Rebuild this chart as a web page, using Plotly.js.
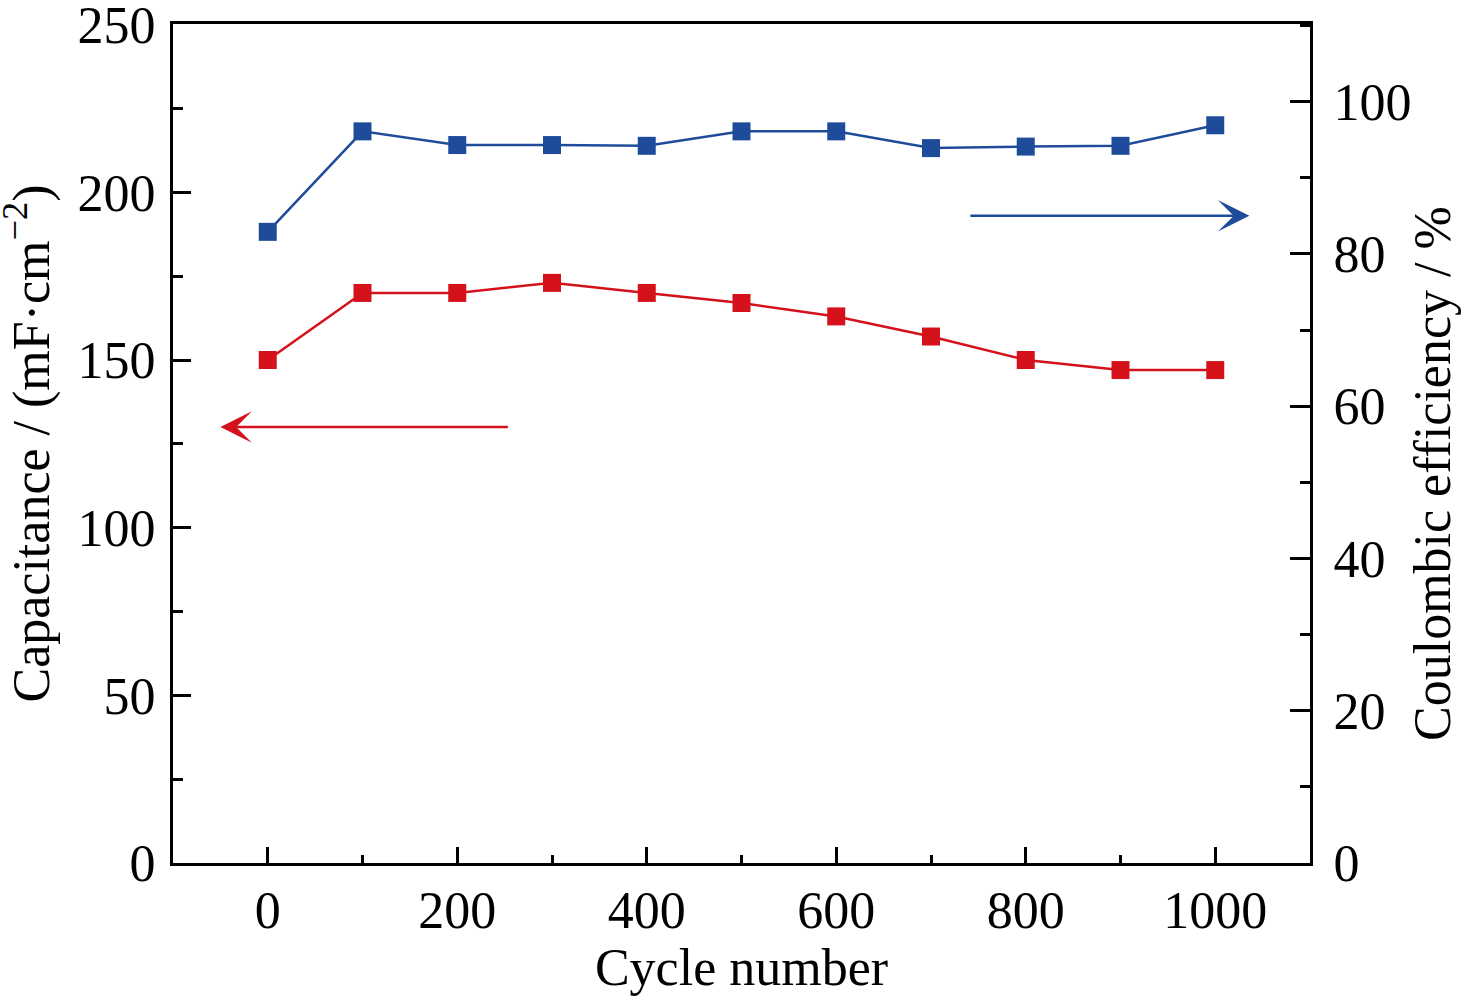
<!DOCTYPE html>
<html>
<head>
<meta charset="utf-8">
<script src="https://cdn.plot.ly/plotly-3.0.1.min.js"></script>
<style>html,body{margin:0;padding:0;background:#fff;}#chart{width:1462px;height:1000px;}</style>
</head>
<body>
<div id="chart"></div>
<script>
const cycles = [0, 100, 200, 300, 400, 500, 600, 700, 800, 900, 1000];
const capacitance = [150, 170, 170, 173, 170, 167, 163, 157, 150, 147, 147];
const coulombic = [82.9, 96.1, 94.3, 94.3, 94.2, 96.1, 96.1, 93.9, 94.1, 94.2, 96.9];

const RED = '#D5121B';
const BLUE = '#1F4C9A';
const FONT = 'Liberation Serif, Times New Roman, serif';

const traces = [
  {
    x: cycles, y: capacitance, type: 'scatter', mode: 'lines+markers',
    name: 'Capacitance', yaxis: 'y',
    line: {color: RED, width: 2.5},
    marker: {symbol: 'square', size: 18, color: RED, line: {width: 0}}
  },
  {
    x: cycles, y: coulombic, type: 'scatter', mode: 'lines+markers',
    name: 'Coulombic efficiency', yaxis: 'y2',
    line: {color: BLUE, width: 2.5},
    marker: {symbol: 'square', size: 18, color: BLUE, line: {width: 0}}
  }
];

const axisCommon = {
  showgrid: false, zeroline: false, showline: true,
  linecolor: '#000', linewidth: 3,
  ticks: 'inside', tickcolor: '#000', tickwidth: 3,
  ticklabeloverflow: 'allow',
  tickfont: {family: FONT, size: 52, color: '#000'}
};

const layout = {
  width: 1462, height: 1000,
  paper_bgcolor: '#fff', plot_bgcolor: '#fff',
  margin: {l: 173, r: 152, t: 24, b: 137},
  showlegend: false,
  font: {family: FONT, color: '#000'},
  xaxis: Object.assign({}, axisCommon, {
    range: [-100, 1100], tick0: 0, dtick: 200, ticklen: 16,
    mirror: true,
    minor: {dtick: 100, tick0: 0, ticks: 'inside', ticklen: 8, tickwidth: 3, tickcolor: '#000'},
    title: {text: 'Cycle number', font: {family: FONT, size: 52, color: '#000'}, standoff: 10}
  }),
  yaxis: Object.assign({}, axisCommon, {
    range: [0, 250.2], tick0: 0, dtick: 50, ticklen: 18,
    ticklabelstandoff: 4,
    minor: {dtick: 25, tick0: 0, ticks: 'inside', ticklen: 10, tickwidth: 3, tickcolor: '#000'},
    title: {text: ''}
  }),
  yaxis2: Object.assign({}, axisCommon, {
    overlaying: 'y', side: 'right',
    range: [0, 110.2], tick0: 0, dtick: 20, ticklen: 20,
    ticklabelstandoff: 10,
    minor: {dtick: 10, tick0: 0, ticks: 'inside', ticklen: 10, tickwidth: 3, tickcolor: '#000'},
    title: {text: ''}
  }),
  annotations: [
    {
      xref: 'x', yref: 'y', axref: 'x', ayref: 'y',
      x: -50, y: 130, ax: 255, ay: 130,
      text: '', showarrow: true, arrowhead: 3, arrowsize: 2.1, arrowwidth: 2.5, arrowcolor: RED
    },
    {
      xref: 'x', yref: 'y2', axref: 'x', ayref: 'y2',
      x: 1036, y: 85, ax: 740, ay: 85,
      text: '', showarrow: true, arrowhead: 3, arrowsize: 2.1, arrowwidth: 2.5, arrowcolor: BLUE
    },
    {
      xref: 'paper', yref: 'paper', x: 0, y: 0.5, xanchor: 'center', yanchor: 'middle',
      xshift: -145, yshift: 0, textangle: -90, showarrow: false,
      text: 'Capacitance / (mF·cm<sup>−2</sup>)',
      font: {family: FONT, size: 52, color: '#000'}
    },
    {
      xref: 'paper', yref: 'paper', x: 1, y: 0.5, xanchor: 'left', yanchor: 'middle',
      xshift: 92, yshift: -30, textangle: -90, showarrow: false,
      text: 'Coulombic efficiency / %',
      font: {family: FONT, size: 52, color: '#000'}
    }
  ]
};

Plotly.newPlot('chart', traces, layout, {displayModeBar: false, staticPlot: true});
</script>
</body>
</html>
